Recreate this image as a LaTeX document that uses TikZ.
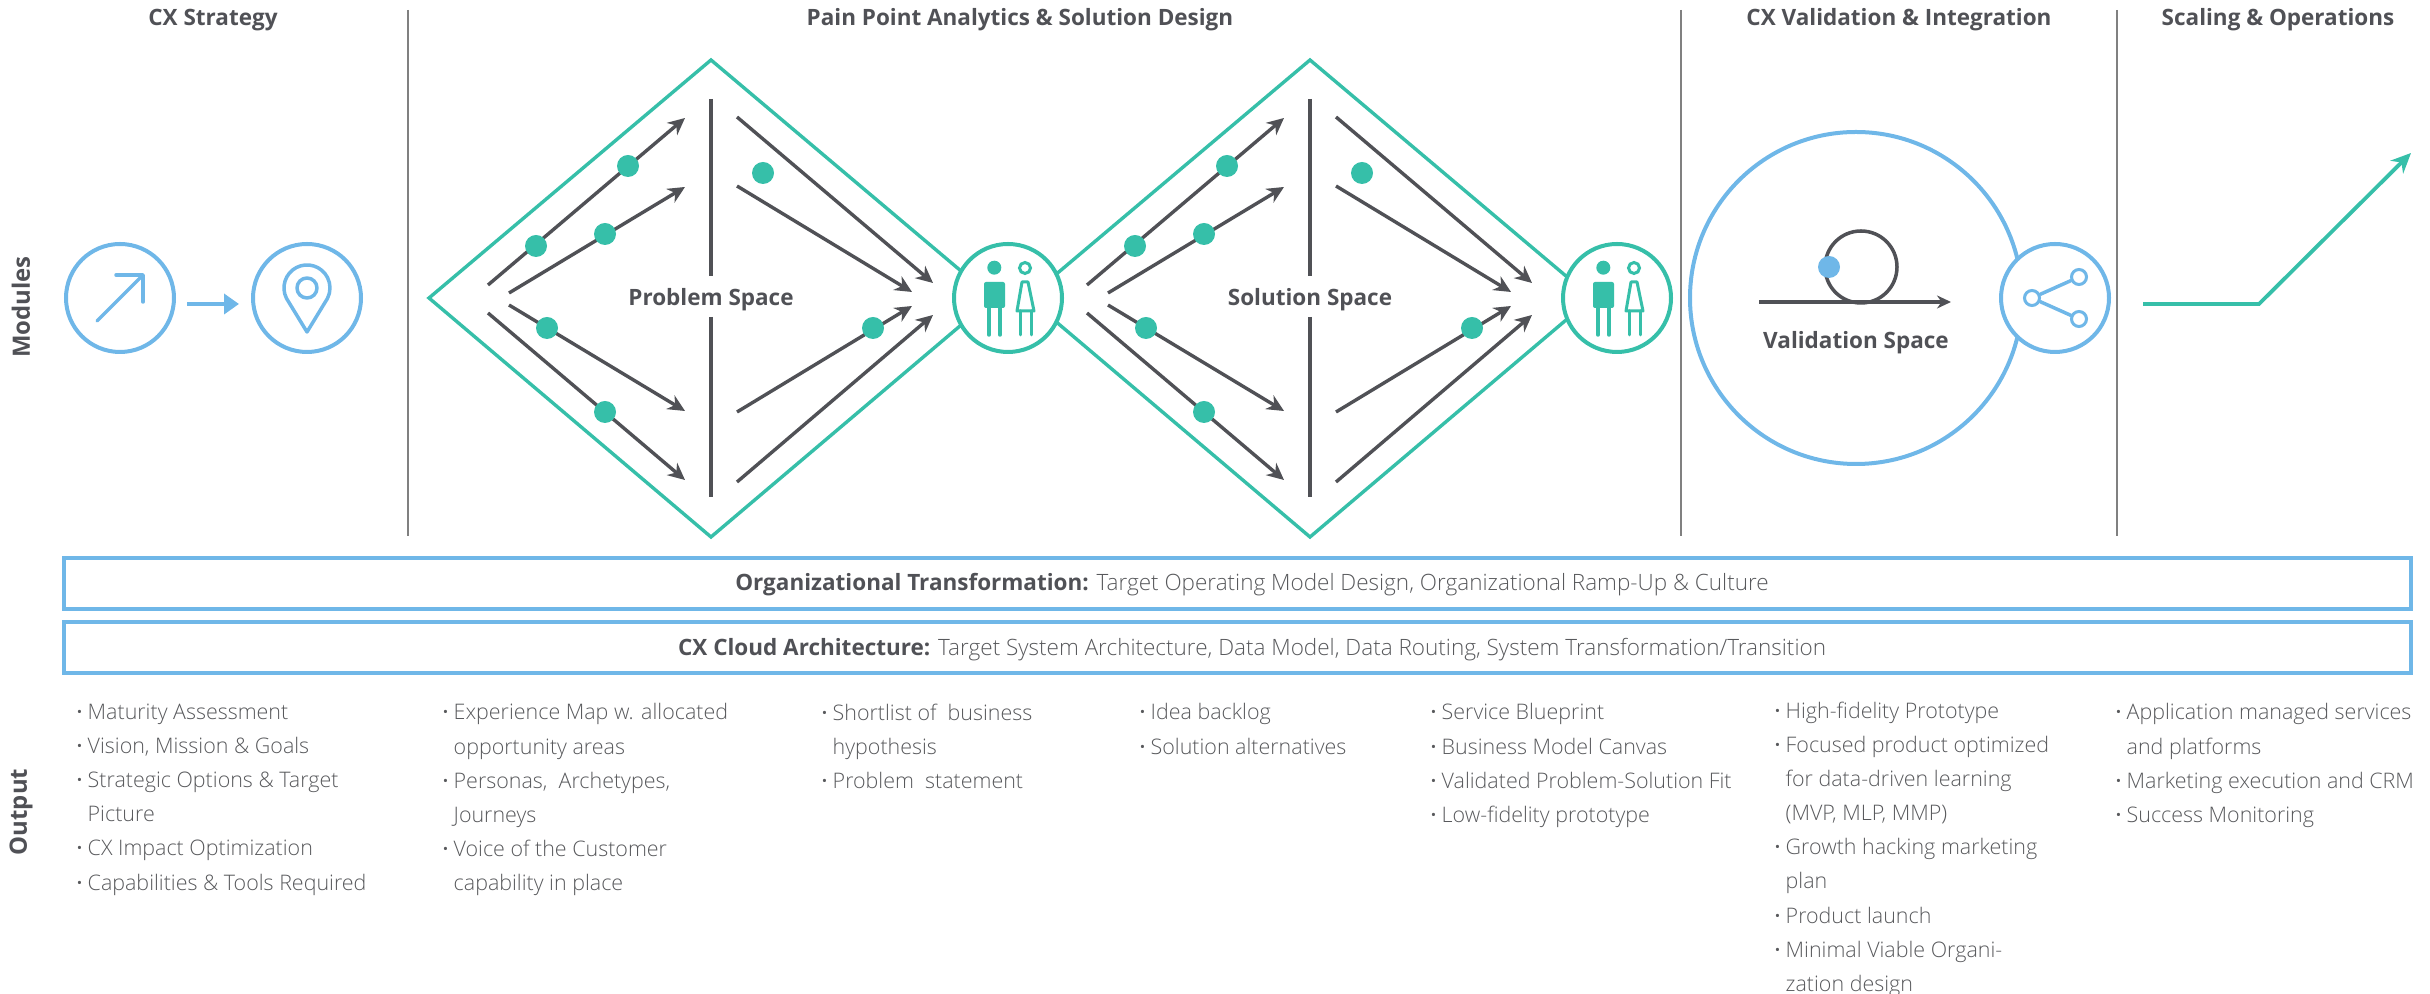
\documentclass[tikz,border=0pt]{standalone}
\usepackage{fontspec}
\setmainfont{Open Sans}
\newfontfamily\lightfont{Open Sans Light}
\usetikzlibrary{arrows.meta}
\definecolor{cxteal}{HTML}{36BFA9}
\definecolor{cxblue}{HTML}{6FB7E8}
\definecolor{cxdark}{HTML}{505156}
\definecolor{cxgrey}{HTML}{58595C}
\newcommand{\itm}{\makebox[.11cm][l]{\textbf{·}}}
\newcommand{\cnt}{\hspace*{.11cm}}
\begin{document}
\begin{tikzpicture}
    \tikzset{
        title/.style={font=\fontsize{6.4}{8}\selectfont\bfseries, text=cxdark},
        side/.style={font=\fontsize{6.8}{8}\selectfont\bfseries, text=cxdark, rotate=90},
        divider/.style={draw=gray, line width=.018cm},
        bluering/.style={draw=cxblue, circle, line width=.04cm, fill=white, inner sep=0, minimum size=1.08cm},
        tealring/.style={draw=cxteal, circle, line width=.04cm, fill=white, inner sep=0, minimum size=1.08cm},
        icon/.style={draw=cxblue, line width=.035cm, line cap=round, line join=round},
        flow/.style={draw=cxdark, line width=.034cm, -{Stealth[length=.17cm,width=.16cm]}},
        bar/.style={draw=cxdark, line width=.034cm},
        dot/.style={circle, fill=cxteal, inner sep=0, minimum size=.22cm},
        banner/.style={draw=cxblue, line width=.045cm},
        bannertext/.style={font=\fontsize{6.4}{8}\selectfont\lightfont, text=cxgrey},
        output/.style={font=\fontsize{6.1}{9.72}\selectfont\lightfont, text=cxgrey, align=left, anchor=north west, inner sep=0}
    }
    \useasboundingbox (0,0) rectangle (24.3,-9.94);

    % column heads and dividers
    \foreach \n/\x/\t in {a/2.13/CX Strategy, b/10.20/Pain Point Analytics \& Solution Design,
        c/18.99/CX Validation \& Integration, d/22.78/Scaling \& Operations}{
        \node[title] (head\n) at (\x,-.2) {\t};
    }
    \foreach \n/\x in {a/4.08, b/16.81, c/21.17}{
        \coordinate (top\n) at (\x,-.1);
        \coordinate (bot\n) at (\x,-5.36);
        \draw[divider] (top\n) -- (bot\n);
    }
    \node[side] (modules) at (.21,-3.07) {Modules};
    \node[side] (outlabel) at (.21,-8.12) {Output};

    % strategy
    \node[bluering] (target) at (1.2,-2.98) {};
    \node[bluering] (pin) at (3.07,-2.98) {};
    \coordinate (ta) at (1.87,-3.04);
    \coordinate (tb) at (2.39,-3.04);
    \draw[draw=cxblue, line width=.04cm, -{Triangle[length=.15cm,width=.2cm]}] (ta) -- (tb);
    \draw[icon] (.97,-3.21) -- (1.43,-2.75);
    \draw[icon] (1.16,-2.75) -- (1.43,-2.75) -- (1.43,-3.02);
    \draw[icon] (3.07,-3.32) -- (2.865,-2.984) arc[start angle=207, end angle=-27, radius=.23] -- cycle;
    \draw[icon] (3.07,-2.88) circle (.1);

    % the two spaces
    \foreach \sp/\ox/\t in {p/0/Problem Space, s/5.99/Solution Space}{
        \begin{scope}[xshift=\ox cm]
            \foreach \n/\x/\y in {%
                l/4.29/-2.98,t/7.11/-.6,r/9.93/-2.98,u/7.11/-5.37,%
                aa/4.88/-2.85,ab/6.85/-1.18,ba/5.09/-2.93,bb/6.85/-1.87,%
                ca/5.09/-3.05,cb/6.85/-4.11,da/4.88/-3.13,db/6.85/-4.8,%
                ea/7.37/-1.17,eb/9.33/-2.83,fa/7.37/-1.86,fb/9.12/-2.92,%
                ga/7.37/-4.12,gb/9.12/-3.06,ha/7.37/-4.82,hb/9.33/-3.15,%
                va/7.11/-.99,vb/7.11/-2.76,vc/7.11/-3.17,vd/7.11/-4.97%
            }{
                \coordinate (\sp\n) at (\x,\y);
            }
            \draw[draw=cxteal, line width=.034cm] (\sp l) -- (\sp t) -- (\sp r) -- (\sp u) -- cycle;
            \draw[bar] (\sp va) -- (\sp vb);
            \draw[bar] (\sp vc) -- (\sp vd);
            \foreach \a/\b in {aa/ab,ba/bb,ca/cb,da/db,ea/eb,fa/fb,ga/gb,ha/hb}{
                \draw[flow] (\sp\a) -- (\sp\b);
            }
            \foreach \n/\x/\y in {a/6.28/-1.66,b/5.36/-2.46,c/6.05/-2.34,d/5.47/-3.28,e/6.05/-4.12,f/7.63/-1.73,g/8.73/-3.28}{
                \node[dot] (\sp dot\n) at (\x,\y) {};
            }
            \node[title] (\sp label) at (7.11,-3) {\t};
        \end{scope}
    }

    % people
    \foreach \n/\ox in {m/0, n/6.09}{
        \begin{scope}[xshift=\ox cm]
            \node[tealring] (people\n) at (10.08,-2.98) {};
            \fill[cxteal] (9.943,-2.677) circle (.07);
            \draw[draw=cxteal, line width=.03cm] (10.25,-2.68) circle (.055);
            \fill[cxteal, rounded corners=.02cm] (9.84,-2.82) rectangle (10.05,-3.08);
            \draw[draw=cxteal, line width=.035cm, line cap=round] (9.89,-3.08) -- (9.89,-3.35);
            \draw[draw=cxteal, line width=.035cm, line cap=round] (10,-3.08) -- (10,-3.35);
            \draw[draw=cxteal, line width=.03cm, line join=round] (10.22,-2.82) -- (10.28,-2.82) -- (10.34,-3.11) -- (10.17,-3.11) -- cycle;
            \draw[draw=cxteal, line width=.03cm, line cap=round] (10.2,-3.11) -- (10.2,-3.35);
            \draw[draw=cxteal, line width=.03cm, line cap=round] (10.31,-3.11) -- (10.31,-3.35);
        \end{scope}
    }

    % validation
    \node[draw=cxblue, circle, line width=.04cm, inner sep=0, minimum size=3.32cm] (valspace) at (18.56,-2.98) {};
    \node[bluering] (share) at (20.55,-2.98) {};
    \node[draw=cxdark, circle, line width=.035cm, inner sep=0, minimum size=.72cm] (loop) at (18.61,-2.67) {};
    \node[dot, fill=cxblue] (loopdot) at (18.29,-2.67) {};
    \coordinate (la) at (17.59,-3.02);
    \coordinate (lb) at (19.51,-3.02);
    \draw[draw=cxdark, line width=.035cm, -{Stealth[length=.14cm,width=.13cm]}] (la) -- (lb);
    \node[title] (vallabel) at (18.56,-3.43) {Validation Space};
    \node[draw=cxblue, circle, line width=.03cm, inner sep=0, minimum size=.15cm] (sa) at (20.32,-2.98) {};
    \node[draw=cxblue, circle, line width=.03cm, inner sep=0, minimum size=.15cm] (sb) at (20.79,-2.77) {};
    \node[draw=cxblue, circle, line width=.03cm, inner sep=0, minimum size=.15cm] (sc) at (20.79,-3.19) {};
    \draw[icon] (sa) -- (sb);
    \draw[icon] (sa) -- (sc);

    % scaling
    \coordinate (ga) at (21.43,-3.04);
    \coordinate (gb) at (22.59,-3.04);
    \coordinate (gc) at (24.11,-1.53);
    \draw[draw=cxteal, line width=.038cm, -{Stealth[length=.2cm,width=.18cm]}] (ga) -- (gb) -- (gc);

    % banners
    \draw[banner] (.64,-5.58) rectangle (24.11,-6.09);
    \draw[banner] (.64,-6.22) rectangle (24.11,-6.73);
    \node[bannertext] (orgtext) at (12.52,-5.85) {\textcolor{cxdark}{\normalfont\bfseries Organizational Transformation:} Target Operating Model Design, Organizational Ramp-Up \& Culture};
    \node[bannertext] (cloudtext) at (12.52,-6.5) {\textcolor{cxdark}{\normalfont\bfseries CX Cloud Architecture:} Target System Architecture, Data Model, Data Routing, System Transformation/Transition};

    % output columns
    \node[output] (outa) at (.76,-7.03) {\itm Maturity Assessment\\\itm Vision, Mission \& Goals\\\itm Strategic Options \& Target\\\cnt Picture\\\itm CX Impact Optimization\\\itm Capabilities \& Tools Required};
    \node[output] (outb) at (4.42,-7.03) {\itm Experience Map w. allocated\\\cnt opportunity areas\\\itm Personas,~ Archetypes,\\\cnt Journeys\\\itm Voice of the Customer\\\cnt capability in place};
    \node[output] (outc) at (8.21,-7.03) {\itm Shortlist of~ business\\\cnt hypothesis\\\itm Problem~ statement};
    \node[output] (outd) at (11.39,-7.03) {\itm Idea backlog\\\itm Solution alternatives};
    \node[output] (oute) at (14.3,-7.03) {\itm Service Blueprint\\\itm Business Model Canvas\\\itm Validated Problem-Solution Fit\\\itm Low-fidelity prototype};
    \node[output] (outf) at (17.74,-7.01) {\itm High-fidelity Prototype\\\itm Focused product optimized\\\cnt for data-driven learning\\\cnt (MVP, MLP, MMP)\\\itm Growth hacking marketing\\\cnt plan\\\itm Product launch\\\itm Minimal Viable Organi-\\\cnt zation design};
    \node[output] (outg) at (21.15,-7.03) {\itm Application managed services\\\cnt and platforms\\\itm Marketing execution and CRM\\\itm Success Monitoring};
\end{tikzpicture}
\end{document}
